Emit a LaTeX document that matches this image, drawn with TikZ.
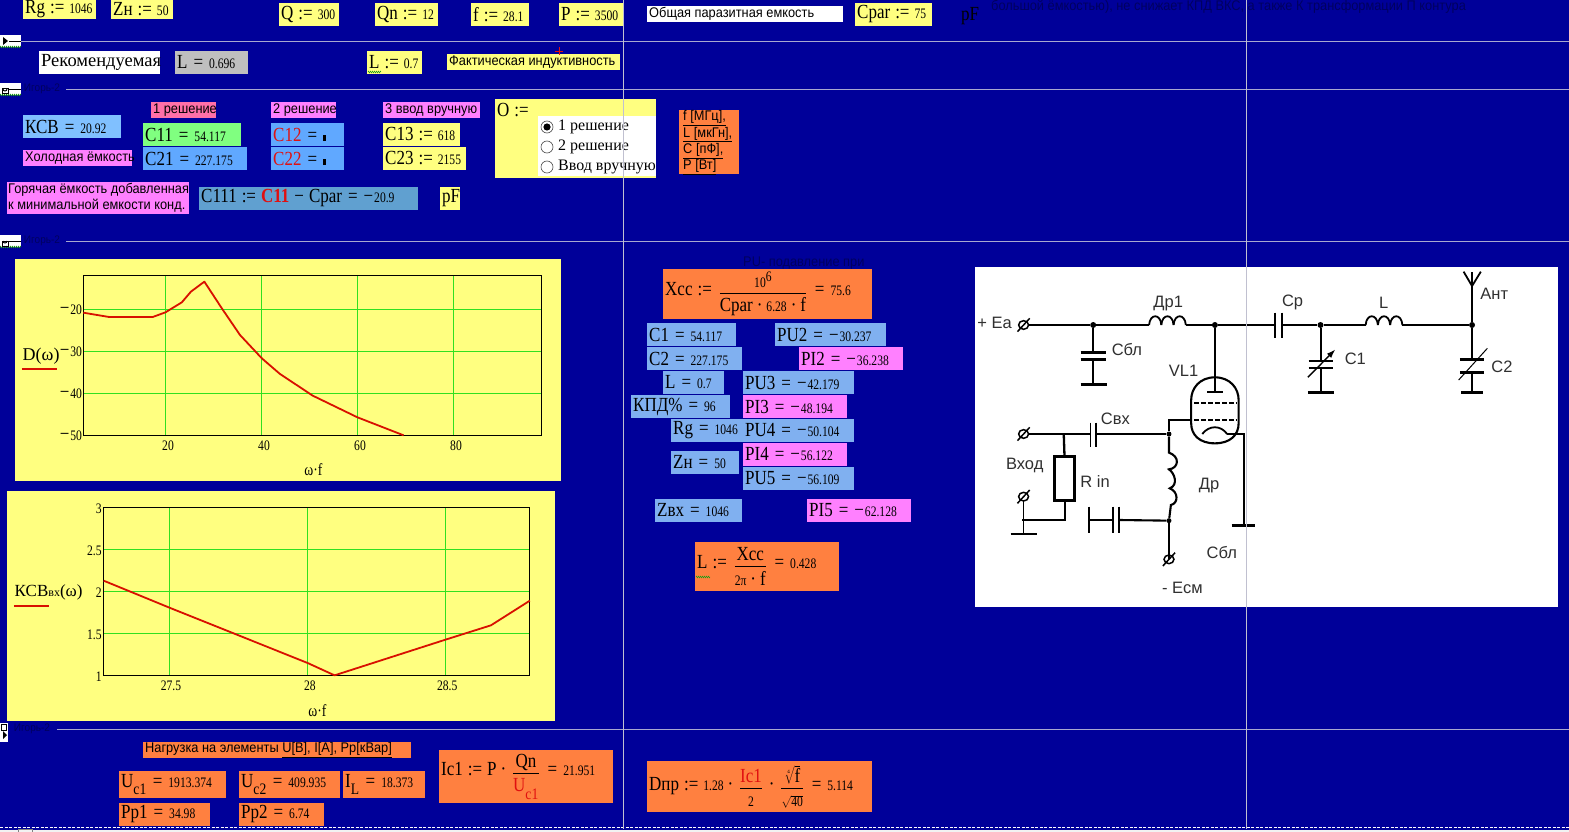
\documentclass[tikz,border=0pt]{standalone}
\usepackage{fontspec}
\usepackage{amsmath}
\setmainfont{Liberation Serif}
\newfontfamily\bigf[FakeStretch=.85]{Liberation Serif}
\newfontfamily\numf[FakeStretch=.8]{Liberation Serif}
\newfontfamily\sanf[FakeStretch=.915]{Liberation Sans}
\newfontfamily\circf{Liberation Sans}
\usetikzlibrary{decorations.pathmorphing,arrows.meta,calc}
\newcommand\Bg[1]{{\bigf\fontsize{20}{22}\selectfont #1}}
\newcommand\Nm[1]{{\numf\fontsize{14.5}{16}\selectfont #1}}
\newcommand\Sa[1]{{\sanf\fontsize{14}{16}\selectfont #1}}
\newcommand\Rd[1]{\textcolor{redtxt}{#1}}
\newcommand\Eq{\hspace{6pt}\Bg{=}\hspace{6pt}}
\newcommand\As{\hspace{5pt}\Bg{:=}\hspace{5pt}}
\newcommand\Dt{\hspace{4pt}\Bg{·}\hspace{4pt}}
\newcommand\Mn{\Bg{−}\hspace{1pt}}
\newcommand\Fr[2]{\,$\genfrac{}{}{.8pt}{0}{\hbox{\rule[-3pt]{0pt}{3pt}#1}}{\hbox{\rule{0pt}{16pt}#2}}$\,}
\newcommand\Blk{\rule{3pt}{6pt}}
\definecolor{bgblue}{HTML}{000099}
\definecolor{ylw}{HTML}{FFFF80}
\definecolor{lblue}{HTML}{80C0FF}
\definecolor{mblue}{HTML}{60A8FF}
\definecolor{pblue}{HTML}{80B0F0}
\definecolor{tblue}{HTML}{60A0D0}
\definecolor{mgn}{HTML}{FF80FF}
\definecolor{pnk}{HTML}{FF70A8}
\definecolor{grn}{HTML}{80FF80}
\definecolor{org}{HTML}{FF8040}
\definecolor{redtxt}{HTML}{E01010}
\definecolor{gline}{HTML}{A8A8D0}
\definecolor{vline}{HTML}{C0C0D0}
\definecolor{plotgrn}{HTML}{30E020}
\definecolor{plotred}{HTML}{D81000}
\definecolor{ctxt}{HTML}{303030}
\definecolor{darktxt}{HTML}{000060}
% \cell{name}{x0}{y0}{x1}{y1}{fill}{content}
\newcommand\cell[7]{%
  \fill[#6] (#2,#3) rectangle (#4,#5);
  \node[celltext] (#1) at (#2+2,{(#3+#5)/2}) {#7};}
\tikzset{
  celltext/.style={anchor=west,inner sep=0pt,text=black,align=left},
  secline/.style={gline,line width=.8pt},
  grline/.style={plotgrn,line width=1.1pt},
  frameline/.style={black,line width=1pt},
  curve/.style={plotred,line width=1.8pt,line join=round},
  tick/.style={inner sep=0pt,text=black},
  wire/.style={black,line width=1.5pt},
  thick wire/.style={black,line width=2.8pt},
  ctext/.style={inner sep=0pt,text=ctxt},
  dot/.style={black,fill=black,circle,inner sep=0pt,minimum size=6pt},
  squig/.style={plotgrn!70!black,line width=.5pt,decorate,decoration={zigzag,segment length=2pt,amplitude=.8pt}},
}
\begin{document}
\begin{tikzpicture}[x=1pt,y=-1pt]
\useasboundingbox (0,0) rectangle (1569,832);
\fill[bgblue] (0,0) rectangle (1569,832);
\fill[white!90!gray] (0,829.5) rectangle (1569,832);
\draw[white,line width=1pt,dash pattern=on 3pt off 1.5pt] (0,827.5) -- (1569,827.5);
\draw[gray,fill=white!90!gray,line width=.5pt] (18,829.5) rectangle (32,832);
% section rules
\coordinate (s1a) at (21,41); \coordinate (s1b) at (1569,41);
\coordinate (s2a) at (66,89); \coordinate (s2b) at (1569,89);
\coordinate (s3a) at (66,241); \coordinate (s3b) at (1569,241);
\coordinate (s4a) at (57,729); \coordinate (s4b) at (1569,729);
\draw[secline] (s1a)--(s1b); \draw[secline] (s2a)--(s2b); \draw[secline] (s3a)--(s3b); \draw[secline] (s4a)--(s4b);
% section icons
\foreach \yy/\nm in {35/a,83/b,235/c}{
  \fill[white] (0,\yy) rectangle (21,\yy+12);
  \draw[squig] (0,\yy+12)--(21,\yy+12);
}
\fill[black] (3,37)--(8,41)--(3,45)--cycle;
\draw[black,line width=.7pt] (9,41)--(21,41);
\foreach \yy in {83,235}{
  \draw[black,line width=1pt] (2,\yy+6) rectangle (8,\yy+11);
  \draw[black,line width=1pt] (3,\yy+6) arc[start angle=180,end angle=0,radius=2];
  \draw[black,line width=.7pt] (9,\yy+6)--(21,\yy+6);
  \node[inner sep=0pt,text=darktxt] at (42,\yy+6) {\sanf\fontsize{11}{12}\selectfont Игорь-2};
}
\fill[white] (0,723) rectangle (8,742);
\draw[black,line width=1pt] (1.5,724) rectangle (6,730);
\fill[black] (3,731)--(7,735)--(3,739)--cycle;
\node[inner sep=0pt,text=darktxt] (sec4) at (32,729) {\sanf\fontsize{11}{12}\selectfont Игорь-2};

% top row
\cell{rg}{23}{0}{96}{19}{ylw}{\Bg{Rg}\As\Nm{1046}}
\cell{zn}{111}{0}{173}{19}{ylw}{\Bg{Zн}\As\Nm{50}}
\cell{q}{279}{3}{339}{26}{ylw}{\Bg{Q}\As\Nm{300}}
\cell{qn}{375}{3}{438}{26}{ylw}{\Bg{Qn}\As\Nm{12}}
\cell{ff}{471}{3}{529}{26}{ylw}{\Bg{f}\As\Nm{28.1}}
\cell{pp}{559}{3}{623}{26}{ylw}{\Bg{P}\As\Nm{3500}}
\cell{obsh}{647}{6}{843}{22}{white}{\Sa{Общая паразитная емкость}}
\cell{cpar}{855}{3}{932}{26}{ylw}{\Bg{Cpar}\As\Nm{75}}
\node[inner sep=0pt,text=black,anchor=west] (pf0) at (961,16) {\Bg{pF}};
\node[inner sep=0pt,text=darktxt,anchor=west] (topnote) at (991,7) {\sanf\fontsize{14}{14}\selectfont большой ёмкостью), не снижает КПД ВКС, а также К трансформации П контура};

% L row
\cell{rek}{39}{51}{160}{74}{white}{{\fontsize{18.5}{20}\selectfont Рекомендуемая}}
\cell{lrek}{175}{51}{248}{74}{gray!50}{\Bg{L}\Eq\Nm{0.696}}
\cell{lfact}{367}{51}{422}{74}{ylw}{\Bg{L}\As\Nm{0.7}}
\coordinate (sq1) at (368,72); \coordinate (sq2) at (381,72);
\draw[squig] (sq1)--(sq2);
\cell{fakt}{447}{54}{620}{70}{ylw}{\Sa{Фактическая индуктивность}}
\draw[redtxt,line width=.6pt] (555,51)--(563,51) (559,47)--(559,55);

% solutions
\cell{sol1}{151}{102}{216}{118}{pnk}{\Sa{1 решение}}
\cell{sol2}{271}{102}{336}{118}{mgn}{\Sa{2 решение}}
\cell{sol3}{383}{102}{480}{118}{mgn}{\Sa{3 ввод вручную}}
\cell{ksv}{23}{115}{121}{138}{lblue}{\Bg{КСВ}\Eq\Nm{20.92}}
\cell{c11}{143}{123}{241}{146}{grn}{\Bg{C11}\Eq\Nm{54.117}}
\cell{c21}{143}{147}{247}{170}{mblue}{\Bg{C21}\Eq\Nm{227.175}}
\cell{c12}{271}{123}{344}{146}{mblue}{\Rd{\Bg{C12}}\Eq\Blk}
\cell{c22}{271}{147}{344}{170}{mblue}{\Rd{\Bg{C22}}\Eq\Blk}
\cell{c13}{383}{123}{460}{146}{ylw}{\Bg{C13}\As\Nm{618}}
\cell{c23}{383}{147}{466}{170}{ylw}{\Bg{C23}\As\Nm{2155}}
\cell{cold}{23}{150}{132}{166}{mgn}{\Sa{Холодная ёмкость}}
\fill[mgn] (7,182) rectangle (189,214);
\node[celltext,font=\sanf\fontsize{14}{16}\selectfont] (hot) at (8,198) {Горячая ёмкость добавленная\\к минимальной емкости конд.};
\cell{c111}{199}{187}{418}{210}{tblue}{\Bg{C111}\As\Rd{\textbf{\Bg{C11}}}\hspace{5pt}\Bg{−}\hspace{5pt}\Bg{Cpar}\Eq\Nm{\Mn20.9}}
\cell{pf1}{440}{187}{460}{210}{ylw}{\Bg{pF}}

% O box
\fill[ylw] (495,99) rectangle (656,178);
\node[celltext] (obox) at (497,110) {\Bg{O}\As};
\fill[white] (538,116) rectangle (656,176);
\foreach \yy/\lab/\nn in {127/1 решение/ra,147/2 решение/rb,167/Ввод вручную/rc}{
  \draw[black!70,fill=white,line width=.6pt] (547,\yy) circle (6);
  \node[celltext] (\nn) at (558,\yy) {{\fontsize{16}{16}\selectfont \lab}};
}
\fill[black] (547,127) circle (3.6);
% units
\fill[org] (679,110) rectangle (739,174);
\foreach \yy/\lab/\nn in {118/{f [МГц],}/ua,134.5/{L [мкГн],}/ub,151/{C [пФ],}/uc,167/{P [Вт]}/ud}{
  \node[celltext] (\nn) at (683,\yy) {\underline{\Sa{\lab}}};
}

% plot 1
\fill[ylw] (15,259) rectangle (561,481);
\begin{scope}[shift={(0,250)},x=0.36364pt,y=-0.33333pt]
  \foreach \xx in {455,719,983,1247} \draw[grline] (\xx,76)--(\xx,556);
  \foreach \yy in {178,304,430} \draw[grline] (229,\yy)--(1490,\yy);
  \draw[frameline] (229,76) rectangle (1490,556);
  \draw[curve] (229,188)--(300,201)--(420,201)--(455,187)--(500,157)--(525,125)--(562,95)--(610,175)--(660,255)--(720,325)--(770,372)--(860,437)--(983,502)--(1110,556);
  \foreach \xx/\lab in {462/20,726/40,990/60,1254/80} \node[tick] at (\xx,588) {\Nm{\lab}};
  \foreach \yy/\lab in {180/20,306/30,432/40,558/50} \node[tick,anchor=east] at (226,\yy) {\Nm{\Mn\lab}};
  \node[tick] (xl1) at (862,660) {\Nm{\fontsize{17}{17}\selectfont ω·f}};
  \node[tick,anchor=west] (yl1) at (62,318) {\fontsize{18}{20}\selectfont D(ω)};
  \draw[plotred,line width=2pt] (60,358)--(157,358);
\end{scope}

% plot 2
\fill[ylw] (7,491) rectangle (554.5,721);
\begin{scope}[shift={(0,485)},x=0.36364pt,y=-0.33333pt]
  \foreach \xx in {466,846,1225} \draw[grline] (\xx,67)--(\xx,571);
  \foreach \yy in {193,319,445} \draw[grline] (285,\yy)--(1457,\yy);
  \draw[frameline] (285,67) rectangle (1457,571);
  \draw[curve] (285,287)--(466,368)--(846,534)--(920,571)--(1225,464)--(1350,421)--(1457,347);
  \foreach \xx/\lab in {470/27.5,852/28,1230/28.5} \node[tick] at (\xx,603) {\Nm{\lab}};
  \foreach \yy/\lab in {70/3,196/2.5,322/2,448/1.5,574/1} \node[tick,anchor=east] at (280,\yy) {\Nm{\lab}};
  \node[tick] (xl2) at (873,677) {\Nm{\fontsize{17}{17}\selectfont ω·f}};
  \node[tick,anchor=west] (yl2) at (40,322) {\fontsize{17}{20}\selectfont КСВ{\fontsize{12}{12}\selectfont вх}(ω)};
  \draw[plotred,line width=2pt] (38,362)--(135,362);
\end{scope}

% middle column
\node[inner sep=0pt,text=darktxt,anchor=west] (punote) at (743,263) {\sanf\fontsize{14}{14}\selectfont PU- подавление при};
\cell{xcc}{663}{269}{872}{319}{org}{\Bg{Xcc}\As\Fr{\Nm{10}\raisebox{6pt}{\Nm{6}}}{\Bg{Cpar}\Dt\Nm{6.28}\Dt\Bg{f}}\Eq\Nm{75.6}}
\cell{cc1}{647}{323}{736}{346}{pblue}{\Bg{C1}\Eq\Nm{54.117}}
\cell{pu2}{775}{323}{886}{346}{pblue}{\Bg{PU2}\Eq\Nm{\Mn30.237}}
\cell{cc2}{647}{347}{742}{370}{pblue}{\Bg{C2}\Eq\Nm{227.175}}
\cell{pi2}{799}{347}{903}{370}{mgn}{\Bg{PI2}\Eq\Nm{\Mn36.238}}
\cell{ll}{663}{371}{724}{394}{pblue}{\Bg{L}\Eq\Nm{0.7}}
\cell{pu3}{743}{371}{854}{394}{pblue}{\Bg{PU3}\Eq\Nm{\Mn42.179}}
\cell{kpd}{631}{395}{730}{418}{pblue}{\Bg{КПД\%}\Eq\Nm{96}}
\cell{pi3}{743}{395}{847}{418}{mgn}{\Bg{PI3}\Eq\Nm{\Mn48.194}}
\cell{rg2}{671}{419}{743}{442}{pblue}{\Bg{Rg}\Eq\Nm{1046}}
\cell{pu4}{743}{419}{854}{442}{pblue}{\Bg{PU4}\Eq\Nm{\Mn50.104}}
\cell{pi4}{743}{443}{847}{466}{mgn}{\Bg{PI4}\Eq\Nm{\Mn56.122}}
\cell{zn2}{671}{451}{739}{474}{pblue}{\Bg{Zн}\Eq\Nm{50}}
\cell{pu5}{743}{467}{854}{490}{pblue}{\Bg{PU5}\Eq\Nm{\Mn56.109}}
\cell{zvx}{655}{499}{742}{522}{pblue}{\Bg{Zвх}\Eq\Nm{1046}}
\cell{pi5}{807}{499}{911}{522}{mgn}{\Bg{PI5}\Eq\Nm{\Mn62.128}}
\cell{lc}{695}{542}{839}{591}{org}{\Bg{L}\As\Fr{\Bg{Xcc}}{\Nm{2π}\Dt\Bg{f}}\Eq\Nm{0.428}}
\coordinate (sq3) at (696,577); \coordinate (sq4) at (710,577);
\draw[squig] (sq3)--(sq4);

% bottom
\cell{nagr}{143}{742}{411}{758}{org}{\Sa{Нагрузка на элементы \underline{U[В], I[А], Рр[кВар]}}}
\cell{uc1}{119}{771}{226}{798}{org}{\Bg{U}$_{\hbox{\fontsize{16}{16}\bigf c1}}$\Eq\Nm{1913.374}}
\cell{uc2}{239}{771}{340}{798}{org}{\Bg{U}$_{\hbox{\fontsize{16}{16}\bigf c2}}$\Eq\Nm{409.935}}
\cell{il}{343}{771}{425}{798}{org}{\Bg{I}$_{\hbox{\fontsize{16}{16}\bigf L}}$\Eq\Nm{18.373}}
\cell{pp1}{119}{803}{210}{826}{org}{\Bg{Pp1}\Eq\Nm{34.98}}
\cell{pp2}{239}{803}{324}{826}{org}{\Bg{Pp2}\Eq\Nm{6.74}}
\cell{ic1}{439}{750}{613}{803}{org}{\Bg{Ic1}\As\Bg{P}\Dt\Fr{\Bg{Qn}}{\Rd{\Bg{U}$_{\hbox{\fontsize{16}{16}\bigf c1}}$}}\Eq\Nm{21.951}}
\cell{dpr}{647}{761}{872}{812}{org}{\Bg{Dпр}\As\Nm{1.28}\Dt\Fr{\Rd{\Bg{Ic1}}}{\Nm{2}}\Dt\Fr{$\sqrt[4]{\hbox{\Bg{f}}}$}{$\sqrt{\hbox{\Nm{40}}}$}\Eq\Nm{5.114}}

% circuit
\fill[white] (975,267) rectangle (1558,607);
\begin{scope}[shift={(970,260)},x=0.38265pt,y=-0.33333pt]
  % named points
  \coordinate (tEa) at (140,195);
  \node[dot] (j1) at (322,195) {};
  \node[dot] (j2) at (640,195) {};
  \node[dot] (j3) at (916,195) {};
  \node[dot] (j4) at (1312,195) {};
  \coordinate (tIn) at (140,522);
  \node[dot,minimum size=5pt] (j5) at (520,522) {};
  \node[dot,minimum size=5pt] (j6) at (520,782) {};
  \coordinate (j7) at (245,522);
  \coordinate (tIn2) at (140,710);
  \coordinate (tEs) at (520,898);
  % terminals
  \foreach \c in {tEa,tIn,tIn2,tEs}{
    \draw[wire] (\c) circle[x radius=13,y radius=13];
    \draw[wire] ($(\c)+(-16,20)$) -- ($(\c)+(16,-20)$);
  }
  % main line
  \draw[wire,line width=2pt] (tEa)++(13,0) -- (j1) -- (468,195);
  \foreach \x in {468,500,532} \draw[wire,line width=1.8pt] (\x,195) .. controls (\x+2,160) and (\x+30,160) .. (\x+32,195);
  \draw[wire,line width=2pt] (564,195) -- (j2) -- (797,195);
  \draw[wire,line width=2.1pt] (798,158)--(798,235) (815,158)--(815,235);
  \draw[wire,line width=2pt] (815,195) -- (j3) -- (1034,195);
  \foreach \x in {1034,1066,1098} \draw[wire,line width=1.8pt] (\x,195) .. controls (\x+2,160) and (\x+30,160) .. (\x+32,195);
  \draw[wire,line width=2pt] (1130,195) -- (j4);
  % Cbl
  \draw[wire,line width=2pt] (j1)--(322,278) (322,299)--(322,373);
  \draw[thick wire] (289,278)--(356,278) (289,299)--(356,299) (289,373)--(357,373);
  % tube
  \draw[wire,line width=2pt] (j2)--(640,395);
  \draw[wire,line width=2.1pt] (620,395)--(662,395);
  \draw[wire,line width=2.1pt] (640,352) .. controls (600,352) and (578,385) .. (578,420) -- (578,490) .. controls (578,525) and (600,550) .. (640,550) .. controls (680,550) and (702,525) .. (702,490) -- (702,420) .. controls (702,385) and (680,352) .. (640,352) -- cycle;
  \draw[wire,line width=2pt,dash pattern=on 5pt off 2pt] (585,428)--(697,428) (585,480)--(697,480);
  \draw[wire,line width=1.8pt] (607,522) .. controls (625,495) and (655,495) .. (672,522);
  \draw[wire,line width=2.2pt] (672,522)--(717,522)--(717,796);
  \draw[thick wire] (684,796)--(745,796);
  % grid feed
  \draw[wire,line width=2.2pt] (578,480)--(520,480)--(j5);
  % input
  \draw[wire,line width=2pt] (tIn)++(13,0) -- (j7) -- (315,522);
  \draw[wire,line width=1.8pt] (315,488)--(315,560) (330,488)--(330,560);
  \draw[wire,line width=2pt] (330,522)--(j5);
  \draw[wire,line width=2.3pt] (j7)--(247,590);
  \draw[black,line width=3pt] (222,590) rectangle (273,722);
  \draw[wire,line width=2.8pt] (248,722)--(248,780)--(135,780);
  \draw[wire,line width=1.8pt] (tIn2)++(0,13) -- (140,822);
  \draw[thick wire] (106,822)--(174,822);
  % choke
  \draw[wire,line width=2.1pt] (j5)--(520,578) .. controls (550,590) and (545,625) .. (520,628) .. controls (535,640) and (545,675) .. (522,685) .. controls (545,695) and (545,730) .. (525,735)--(j6);
  % bypass
  \draw[wire,line width=2.1pt] (j6)--(390,780);
  \draw[wire,line width=2.1pt] (374,740)--(374,818) (390,740)--(390,818);
  \draw[wire,line width=2.1pt] (374,780)--(312,780);
  \draw[thick wire] (311,740)--(311,820);
  \draw[wire,line width=2.1pt] (j6)--(tEs);
  % C1
  \draw[wire,line width=2pt] (j3)--(916,302) (916,324)--(916,397);
  \draw[wire,line width=2.2pt] (885,302)--(948,302) (885,324)--(948,324);
  \draw[thick wire] (883,397)--(951,397);
  \draw[wire,line width=1.4pt,-{Latex[length=9pt,width=6pt]}] (883,352)--(955,268);
  % C2
  \draw[wire,line width=2pt] (j4)--(1312,298) (1312,338)--(1312,397);
  \draw[thick wire] (1280,298)--(1343,298) (1280,338)--(1343,338) (1284,397)--(1340,397);
  \draw[wire,line width=1pt] (1277,360)--(1352,265);
  % antenna
  \draw[wire,line width=2.2pt] (j4)--(1312,35);
  \draw[wire,line width=1.8pt] (1290,35)--(1312,78)--(1335,35);
  % labels
  \foreach \xx/\yy/\lab/\nn in {64/190/+ Еа/la,518/130/Др1/lb,843/127/Ср/lc1,1081/127/L/ld,1370/100/Ант/le,410/268/Сбл/lf,558/333/VL1/lg,1007/295/C1/lh,1390/320/C2/li,380/475/Свх/lj,143/615/Вход/lk,327/665/R in/ll1,625/677/Др/lm,658/877/Сбл/ln,555/983/- Есм/lo}{
    \node[ctext] (\nn) at (\xx,\yy) {\circf\fontsize{16.5}{17}\selectfont \lab};
  }
\end{scope}

% vertical rules (on top)
\coordinate (v1a) at (623,0); \coordinate (v1b) at (623,829);
\coordinate (v2a) at (1246,0); \coordinate (v2b) at (1246,829);
\draw[vline,line width=.9pt] (v1a)--(v1b);
\draw[vline,line width=.9pt] (v2a)--(v2b);
\end{tikzpicture}
\end{document}
